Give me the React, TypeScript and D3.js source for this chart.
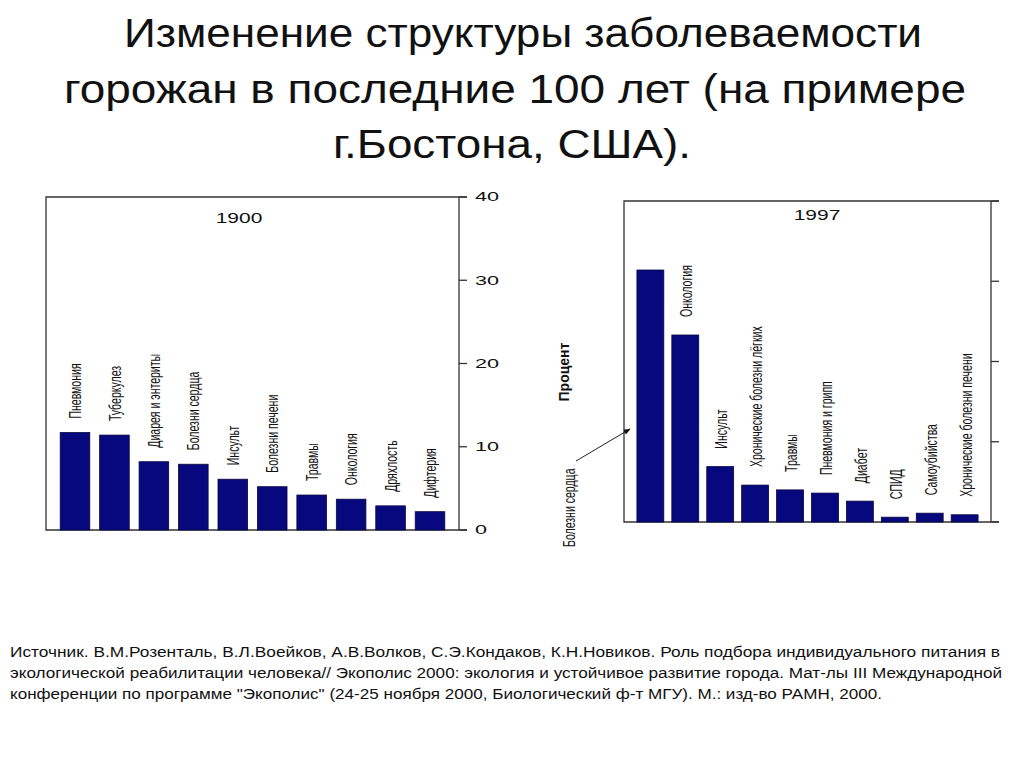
import React, { useEffect, useRef } from 'react';
import * as d3 from 'd3';

// values (percent of deaths)
const categories1900 = ['Пневмония', 'Туберкулез', 'Диарея и энтериты', 'Болезни сердца', 'Инсульт', 'Болезни печени', 'Травмы', 'Онкология', 'Дряхлость', 'Дифтерия'];
const values1900 = [11.7, 11.4, 8.2, 7.9, 6.1, 5.2, 4.2, 3.7, 2.9, 2.2];

const categories1997 = ['Болезни сердца', 'Онкология', 'Инсульт', 'Хронические болезни лёгких', 'Травмы', 'Пневмония и грипп', 'Диабет', 'СПИД', 'Самоубийства', 'Хронические болезни печени'];
const values1997 = [31.4, 23.3, 6.9, 4.6, 4.0, 3.6, 2.6, 0.6, 1.1, 0.9];

const yTicks = [0, 10, 20, 30, 40];

const titleLines = [
  'Изменение структуры заболеваемости',
  'горожан в последние 100 лет (на примере',
  'г.Бостона, США).',
];

const sourceLines = [
  'Источник. В.М.Розенталь, В.Л.Воейков, А.В.Волков, С.Э.Кондаков, К.Н.Новиков. Роль подбора индивидуального питания в',
  'экологической реабилитации человека// Экополис 2000: экология и устойчивое развитие города. Мат-лы III Международной',
  'конференции по программе "Экополис" (24-25 ноября 2000, Биологический ф-т МГУ). М.: изд-во РАМН, 2000.',
];

const FONT = '"Liberation Sans", Arial, Helvetica, sans-serif';
const BAR = '#08087e';
const LINE = '#333';

const App = () => {
  const ref = useRef<SVGSVGElement>(null);

  useEffect(() => {
    const svg = d3.select(ref.current);
    svg.selectAll('*').remove();

    svg.append('defs').append('marker')
      .attr('id', 'arr')
      .attr('viewBox', '0 0 10 10')
      .attr('refX', 9).attr('refY', 5)
      .attr('markerWidth', 7).attr('markerHeight', 7)
      .attr('orient', 'auto')
      .append('path')
      .attr('d', 'M0,1 L10,5 L0,9 Z')
      .attr('fill', '#111');

    // title
    const titleWidths = [798, 902, 358];
    const titleCenters = [523, 515, 512];
    svg.selectAll('.title')
      .data(titleLines)
      .enter()
      .append('text')
      .attr('class', 'title')
      .attr('x', (d, i) => titleCenters[i] - titleWidths[i] / 2)
      .attr('y', (d, i) => 47 + i * 55.5)
      .attr('textLength', (d, i) => titleWidths[i])
      .attr('lengthAdjust', 'spacingAndGlyphs')
      .style('font-family', FONT)
      .style('font-size', '41px')
      .style('fill', '#111')
      .text(d => d);

    // source note
    const sourceWidths = [990, 992, 872];
    svg.selectAll('.src')
      .data(sourceLines)
      .enter()
      .append('text')
      .attr('class', 'src')
      .attr('x', 10)
      .attr('y', (d, i) => 657 + i * 21)
      .attr('textLength', (d, i) => sourceWidths[i])
      .attr('lengthAdjust', 'spacingAndGlyphs')
      .style('font-family', FONT)
      .style('font-size', '14px')
      .style('fill', '#111')
      .text(d => d);

    const drawChart = (opts) => {
      const { cats, vals, x0, x1, top, bottom, padIn, padOut, gap, shift, showTickLabels, skipFirstLabel } = opts;
      const g = svg.append('g');

      const x = d3.scaleBand().domain(cats).range([x0, x1]).paddingInner(padIn).paddingOuter(padOut);
      const y = d3.scaleLinear().domain([0, 40]).range([bottom, top]);

      // frame
      g.append('path')
        .attr('d', `M${x1 + 8},${top}H${x0}V${bottom}H${x1 + 8}`)
        .attr('fill', 'none').attr('stroke', LINE).attr('stroke-width', 1.3);
      g.append('line')
        .attr('x1', x1).attr('x2', x1).attr('y1', top).attr('y2', bottom)
        .attr('stroke', LINE).attr('stroke-width', 1.3);

      g.selectAll('.tick')
        .data(yTicks)
        .enter()
        .append('line')
        .attr('x1', x1).attr('x2', x1 + 8)
        .attr('y1', d => y(d)).attr('y2', d => y(d))
        .attr('stroke', LINE).attr('stroke-width', 1.3);

      if (showTickLabels) {
        g.selectAll('.tl')
          .data(yTicks)
          .enter()
          .append('text')
          .attr('transform', d => `translate(${x1 + 16},${y(d)}) scale(1.8,1)`)
          .attr('dy', '0.36em')
          .style('font-family', FONT)
          .style('font-size', '12px')
          .style('fill', '#111')
          .text(d => d);
      }

      g.selectAll('.bar')
        .data(vals)
        .enter()
        .append('rect')
        .attr('x', (d, i) => x(cats[i]))
        .attr('width', x.bandwidth())
        .attr('y', d => y(d))
        .attr('height', d => bottom - y(d))
        .attr('fill', BAR)
        .attr('stroke', '#050540')
        .attr('stroke-width', 0.8);

      g.selectAll('.lbl')
        .data(cats.map((c, i) => ({ c, v: vals[i], i })).filter(d => !(skipFirstLabel && d.i === 0)))
        .enter()
        .append('text')
        .attr('transform', d => `translate(${x(d.c) + x.bandwidth() / 2 + shift},${y(d.v) - gap}) rotate(-90) scale(0.62,1)`)
        .attr('dy', '0.36em')
        .style('font-family', FONT)
        .style('font-size', '17px')
        .style('fill', '#111')
        .text(d => d.c);

      return { x, y };
    };

    drawChart({
      cats: categories1900, vals: values1900,
      x0: 46, x1: 459, top: 197, bottom: 530,
      padIn: 0.25, padOut: 0.36, gap: 14, shift: 0,
      showTickLabels: true, skipFirstLabel: false,
    });

    drawChart({
      cats: categories1997, vals: values1997,
      x0: 624, x1: 991, top: 201, bottom: 522,
      padIn: 0.23, padOut: 0.37, gap: 18, shift: 1,
      showTickLabels: false, skipFirstLabel: true,
    });

    // year captions
    svg.append('text')
      .attr('transform', 'translate(239,218) scale(1.5,1)')
      .attr('dy', '0.36em')
      .attr('text-anchor', 'middle')
      .style('font-family', FONT).style('font-size', '14px').style('fill', '#111')
      .text('1900');
    svg.append('text')
      .attr('transform', 'translate(817,215) scale(1.5,1)')
      .attr('dy', '0.36em')
      .attr('text-anchor', 'middle')
      .style('font-family', FONT).style('font-size', '14px').style('fill', '#111')
      .text('1997');

    // axis title
    svg.append('text')
      .attr('transform', 'translate(564,372) rotate(-90)')
      .attr('dy', '0.36em')
      .attr('text-anchor', 'middle')
      .style('font-family', FONT).style('font-size', '14px').style('font-weight', 'bold').style('fill', '#111')
      .text('Процент');

    // heart disease callout
    svg.append('text')
      .attr('transform', 'translate(569,547) rotate(-90) scale(0.62,1)')
      .attr('dy', '0.36em')
      .style('font-family', FONT).style('font-size', '17px').style('fill', '#111')
      .text(categories1997[0]);
    svg.append('line')
      .attr('x1', 576).attr('y1', 461).attr('x2', 630).attr('y2', 429)
      .attr('stroke', '#222').attr('stroke-width', 1)
      .attr('marker-end', 'url(#arr)');
  }, []);

  return (
    <svg
      ref={ref}
      width={1024}
      height={767}
      style={{ position: 'absolute', left: 0, top: 0, background: '#fff' }}
    />
  );
};

export default App;
